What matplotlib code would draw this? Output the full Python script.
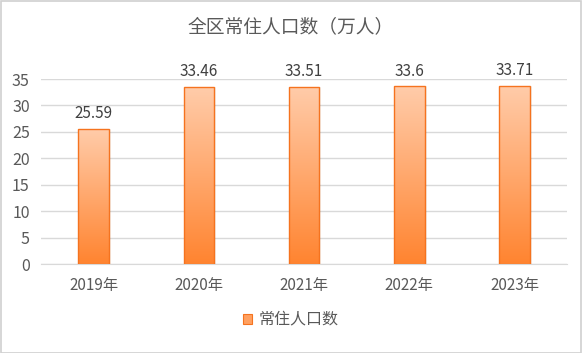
import matplotlib
matplotlib.use("Agg")
import matplotlib.pyplot as plt
import numpy as np
from matplotlib.colors import LinearSegmentedColormap
from matplotlib.patches import Rectangle

plt.rcParams['font.family'] = ['Noto Sans CJK SC', 'DejaVu Sans']

categories = ['2019年', '2020年', '2021年', '2022年', '2023年']
values = [25.59, 33.46, 33.51, 33.6, 33.71]
labels = ['25.59', '33.46', '33.51', '33.6', '33.71']
series_name = '常住人口数'
title = '全区常住人口数（万人）'

fig = plt.figure(figsize=(5.82, 3.53), dpi=100)
fig.patch.set_facecolor('white')
fig.add_artist(Rectangle((0.001, 0.001), 0.997, 0.996, transform=fig.transFigure,
                         fill=False, edgecolor='#D0D0D0', linewidth=1.2))

ax = fig.add_axes([0.0704, 0.252, 0.904, 0.524])
x = np.arange(len(categories))
bw = 0.29
cmap = LinearSegmentedColormap.from_list('g', ['#FF8430', '#FFCCAA'])
bars = ax.bar(x, values, width=bw, color='none', edgecolor='#F5731F', linewidth=1.0, zorder=3)
grad = np.linspace(0, 1, 256).reshape(-1, 1)
for b in bars:
    x0, y0 = b.get_x(), b.get_y()
    w, h = b.get_width(), b.get_height()
    im = ax.imshow(grad, extent=[x0, x0 + w, y0, y0 + h], origin='lower', cmap=cmap,
                   aspect='auto', zorder=2)
    im.set_clip_path(b)
    # subtle shadow
    ax.add_patch(Rectangle((x0 + w, y0), 0.02, h, color='#000000', alpha=0.05, zorder=1, linewidth=0))

for xi, v, lab in zip(x, values, labels):
    ax.annotate(lab, (xi, v), xytext=(0, 5), textcoords='offset points', ha='center', va='bottom',
                fontsize=11, color='#404040')

ax.set_xlim(-0.5, len(categories) - 0.5)
ax.set_ylim(0, 35)
ax.set_yticks(np.arange(0, 36, 5))
ax.set_xticks(x)
ax.set_xticklabels(categories)
ax.grid(axis='y', color='#D9D9D9', linewidth=1.0, zorder=0)
ax.set_axisbelow(True)
for s in ['top', 'right', 'left']:
    ax.spines[s].set_visible(False)
ax.spines['bottom'].set_color('#D9D9D9')
ax.tick_params(axis='both', length=0, colors='#595959')
ax.tick_params(axis='y', labelsize=11.5, pad=8)
ax.tick_params(axis='x', labelsize=11, pad=9)

fig.text(0.5, 0.925, title, ha='center', va='center', fontsize=13.5, color='#595959')

# legend
lx, ly = 0.418, 0.096
fig.add_artist(Rectangle((lx, ly - 0.013), 0.0155, 0.027, transform=fig.transFigure,
                         facecolor='#FFA060', edgecolor='#F5731F', linewidth=0.8))
fig.text(lx + 0.026, ly, series_name, ha='left', va='center', fontsize=11.5, color='#595959')

fig.savefig('out.png', dpi=100)
